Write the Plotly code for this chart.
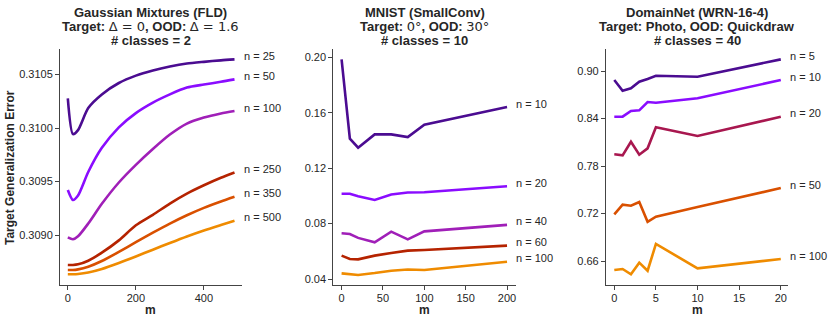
import plotly.graph_objects as go

# --- Gaussian Mixtures (FLD) ---
gauss_m = [0, 15, 30, 60, 100, 150, 200, 250, 300, 350, 400, 450, 490]
gauss_labels = ["n = 25", "n = 50", "n = 100", "n = 250", "n = 350", "n = 500"]
gauss_n25 = [0.310278, 0.309944, 0.309981, 0.310187, 0.310314, 0.310421, 0.310490,
             0.310538, 0.310575, 0.310603, 0.310619, 0.310633, 0.310642]
gauss_n50 = [0.309421, 0.309327, 0.309369, 0.309589, 0.309815, 0.310007, 0.310140,
             0.310238, 0.310315, 0.310379, 0.310407, 0.310432, 0.310455]
gauss_n100 = [0.308978, 0.308960, 0.308988, 0.309107, 0.309292, 0.309491, 0.309656,
              0.309804, 0.309939, 0.310042, 0.310098, 0.310136, 0.310159]
gauss_n250 = [0.308720, 0.308720, 0.308726, 0.308760, 0.308835, 0.308950, 0.309091,
              0.309189, 0.309294, 0.309387, 0.309465, 0.309535, 0.309584]
gauss_n350 = [0.308673, 0.308673, 0.308679, 0.308704, 0.308757, 0.308843, 0.308933,
              0.309022, 0.309107, 0.309185, 0.309254, 0.309313, 0.309357]
gauss_n500 = [0.308633, 0.308633, 0.308636, 0.308650, 0.308683, 0.308739, 0.308800,
              0.308863, 0.308926, 0.308987, 0.309043, 0.309094, 0.309134]

# --- MNIST (SmallConv) ---
mnist_m = [0, 10, 20, 40, 60, 80, 100, 200]
mnist_labels = ["n = 10", "n = 20", "n = 40", "n = 60", "n = 100"]
mnist_n10 = [0.1986, 0.1413, 0.1348, 0.1444, 0.1444, 0.1424, 0.1514, 0.1641]
mnist_n20 = [0.1015, 0.1015, 0.0997, 0.0971, 0.1010, 0.1024, 0.1026, 0.1070]
mnist_n40 = [0.0730, 0.0725, 0.0697, 0.0665, 0.0742, 0.0686, 0.0744, 0.0791]
mnist_n60 = [0.0569, 0.0545, 0.0542, 0.0569, 0.0588, 0.0605, 0.0610, 0.0641]
mnist_n100 = [0.0441, 0.0436, 0.0429, 0.0443, 0.0460, 0.0469, 0.0465, 0.0525]

# --- DomainNet (WRN-16-4) ---
dn_m = [0, 1, 2, 3, 4, 5, 10, 20]
dn_labels = ["n = 5", "n = 10", "n = 20", "n = 50", "n = 100"]
dn_n5 = [0.8886, 0.8751, 0.8781, 0.8865, 0.8899, 0.8940, 0.8928, 0.9147]
dn_n10 = [0.8423, 0.8423, 0.8495, 0.8503, 0.8608, 0.8599, 0.8655, 0.8886]
dn_n20 = [0.7948, 0.7935, 0.8107, 0.7943, 0.8023, 0.8289, 0.8179, 0.8423]
dn_n50 = [0.7190, 0.7311, 0.7298, 0.7345, 0.7096, 0.7160, 0.7281, 0.7522]
dn_n100 = [0.6486, 0.6499, 0.6432, 0.6579, 0.6477, 0.6815, 0.6508, 0.6625]

DARK = "#4b0c91"
VIOLET = "#8a0cff"
PURPLE = "#a01fb8"
RED = "#b52300"
ORANGE_RED = "#d95000"
ORANGE = "#ef8b00"
CRIMSON = "#a8174f"

FONT = "Liberation Sans, Arial, sans-serif"
TXT = "#262626"

# (x values, labels, series, colours, smooth?)
panels = [
    (gauss_m, gauss_labels, [gauss_n25, gauss_n50, gauss_n100, gauss_n250, gauss_n350, gauss_n500],
     [DARK, VIOLET, PURPLE, RED, ORANGE_RED, ORANGE], True),
    (mnist_m, mnist_labels, [mnist_n10, mnist_n20, mnist_n40, mnist_n60, mnist_n100],
     [DARK, VIOLET, PURPLE, RED, ORANGE], False),
    (dn_m, dn_labels, [dn_n5, dn_n10, dn_n20, dn_n50, dn_n100],
     [DARK, VIOLET, CRIMSON, ORANGE_RED, ORANGE], False),
]

fig = go.Figure()
annotations = []

for i, (xs, labels, series, colors, smooth) in enumerate(panels):
    ax = "" if i == 0 else str(i + 1)
    for lab, ys, col in zip(labels, series, colors):
        line = dict(color=col, width=2.6)
        if smooth:
            line.update(shape="spline", smoothing=0.7)
        fig.add_trace(go.Scatter(x=xs, y=ys, mode="lines", name=lab, line=line,
                                 xaxis="x" + ax, yaxis="y" + ax, showlegend=False))
        annotations.append(dict(x=xs[-1], y=ys[-1], xref="x" + ax, yref="y" + ax,
                                text=lab, showarrow=False, xanchor="left", yanchor="middle",
                                xshift=7, yshift=3.5, font=dict(size=11, color=TXT, family=FONT)))

x_domains = [[0.0722, 0.2912], [0.4011, 0.6206], [0.7292, 0.9486]]
x_ranges = [[-23, 512], [-10, 210.5], [-1, 20.9]]
y_ranges = [[0.308533, 0.310736], [0.0357, 0.2058], [0.6297, 0.9274]]
x_ticks = [[0, 200, 400], [0, 50, 100, 150, 200], [0, 5, 10, 15, 20]]
y_ticks = [[0.3090, 0.3095, 0.3100, 0.3105], [0.04, 0.08, 0.12, 0.16, 0.20],
           [0.66, 0.72, 0.78, 0.84, 0.90]]
y_fmt = [".4f", ".2f", ".2f"]

axis_common = dict(showline=True, linecolor="#444", linewidth=1, ticks="outside",
                   ticklen=4, tickcolor="#444", showgrid=False, zeroline=False,
                   tickfont=dict(size=11, color=TXT, family=FONT))

layout = {}
for i in range(3):
    ax = "" if i == 0 else str(i + 1)
    layout["xaxis" + ax] = dict(domain=x_domains[i], range=x_ranges[i], tickvals=x_ticks[i],
                                anchor="y" + ax, ticklabelstandoff=-1, **axis_common)
    layout["yaxis" + ax] = dict(domain=[0.1094, 0.8459], range=y_ranges[i], tickvals=y_ticks[i],
                                tickformat=y_fmt[i], anchor="x" + ax, **axis_common)

MATH = "<span style='font-family:DejaVu Sans;font-weight:normal'>"
titles = [
    ["<b>Gaussian Mixtures (FLD)</b>",
     "<b>Target: </b>" + MATH + "Δ = 0</span><b>, OOD: </b>" + MATH + "Δ = 1.6</span>",
     "<b># classes = 2</b>"],
    ["<b>MNIST (SmallConv)</b>",
     "<b>Target: </b>" + MATH + "0°</span><b>, OOD: </b>" + MATH + "30°</span>",
     "<b># classes = 10</b>"],
    ["<b>DomainNet (WRN-16-4)</b>",
     "<b>Target: Photo, OOD: Quickdraw</b>",
     "<b># classes = 40</b>"],
]
line_y = [0.960, 0.917, 0.872]
for i, lines in enumerate(titles):
    cx = sum(x_domains[i]) / 2
    for t, yy in zip(lines, line_y):
        annotations.append(dict(x=cx, y=yy, xref="paper", yref="paper", text=t, showarrow=False,
                                xanchor="center", yanchor="middle",
                                font=dict(size=13, color=TXT, family=FONT)))
    annotations.append(dict(x=cx, y=0.031, xref="paper", yref="paper", text="<b>m</b>",
                            showarrow=False, xanchor="center", yanchor="middle",
                            font=dict(size=12, color=TXT, family=FONT)))

annotations.append(dict(x=10 / 831, y=0.475, xref="paper", yref="paper",
                        text="<b>Target Generalization Error</b>", textangle=-90,
                        showarrow=False, xanchor="center", yanchor="middle",
                        font=dict(size=12, color=TXT, family=FONT)))

fig.update_layout(width=831, height=320, margin=dict(l=0, r=0, t=0, b=0),
                  plot_bgcolor="white", paper_bgcolor="white",
                  annotations=annotations, **layout)

# the page's default body margin would push the figure 8px right and down
fig.write_html("out.html", config={"displayModeBar": False},
               post_script="document.body.style.margin='0';")
